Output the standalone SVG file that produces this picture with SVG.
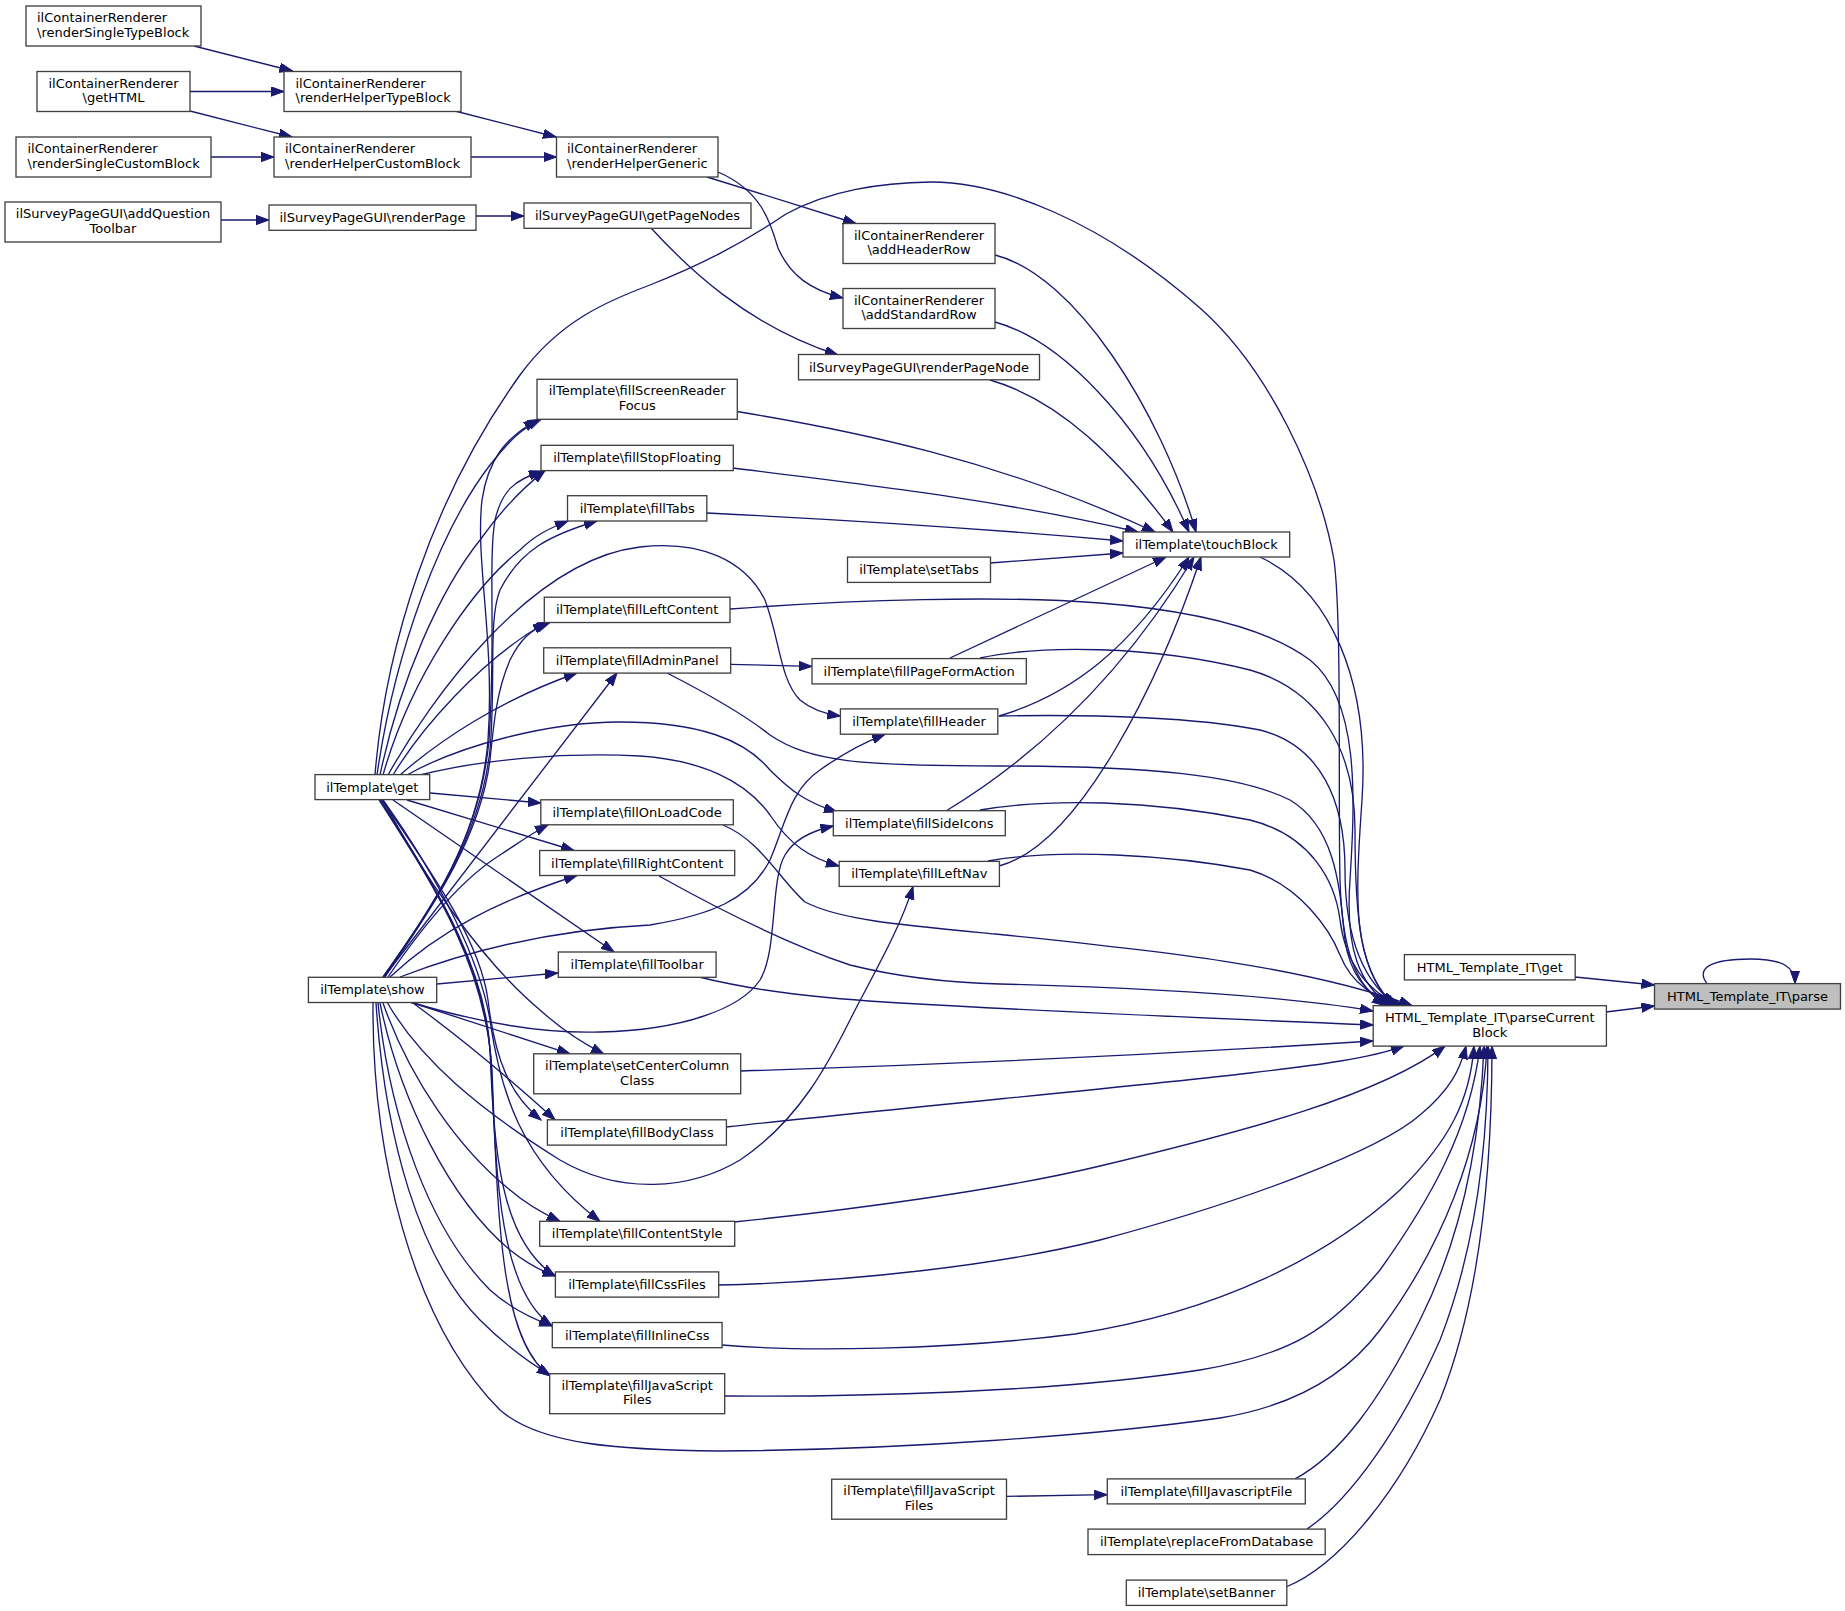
<svg xmlns="http://www.w3.org/2000/svg" width="1845" height="1611" viewBox="0 0 1845 1611">
<style>
.node rect{fill:#ffffff;stroke:#404040;stroke-width:1.33}
.root rect{fill:#bfbfbf}
text{font-family:"DejaVu Sans","Liberation Sans",sans-serif;font-size:13px;fill:#000}
.c{text-anchor:middle}
.e path{fill:none;stroke:#191970;stroke-width:1.33;marker-end:url(#a)}
</style>
<defs>
<marker id="a" markerWidth="14" markerHeight="10" refX="13" refY="4.7" orient="auto" markerUnits="userSpaceOnUse">
<path d="M0,0 L13,4.7 L0,9.4 z" fill="#191970" stroke="#191970" stroke-width="1"/>
</marker>
</defs>
<rect width="1845" height="1611" fill="#ffffff"/>
<g id="edges" class="e">
<path d="M194,46 L292.5,71"/>
<path d="M190,91.5 L284,91.5"/>
<path d="M190,111 L292,137"/>
<path d="M211,157 L274,157"/>
<path d="M455,111 L556,137"/>
<path d="M471,157 L556.5,157"/>
<path d="M221,220 L269,220"/>
<path d="M476,216 L524,216"/>
<path d="M707,177 L856,223.5"/>
<path d="M718,172 C760,190 770,220 778,248 C790,275 810,290 843,298"/>
<path d="M651,228 C685,265 745,325 838,355"/>
<path d="M995,255 C1075,275 1160,410 1196,532"/>
<path d="M995,322 C1060,340 1140,420 1189,532"/>
<path d="M990,380 C1060,400 1120,460 1173,532"/>
<path d="M737,411.5 C850,430 1000,460 1155,532"/>
<path d="M733,468 C870,485 1000,500 1138,532"/>
<path d="M707,513 C850,520 1000,530 1123,541"/>
<path d="M990,563 L1123,553"/>
<path d="M950,658 L1166,557"/>
<path d="M999,716 C1070,695 1130,650 1189,557"/>
<path d="M946,811 C1030,760 1120,680 1194,557"/>
<path d="M999,866 C1080,845 1160,680 1201,557"/>
<path d="M1260,557 C1330,590 1370,680 1362,800 C1355,900 1352,960 1392,1005.6"/>
<path d="M375,775 C385,650 430,500 520,375 C560,320 610,300 650,285 C700,265 740,245 786,214 C830,190 880,183 931,182 C1000,182 1100,220 1200,308 C1270,370 1320,480 1334,560 C1342,620 1338,800 1340,880 C1342,950 1355,985 1385,1005.6"/>
<path d="M730,609 C850,600 1000,595 1100,603 C1200,611 1270,630 1310,660 C1360,700 1355,800 1350,880 C1345,950 1360,985 1390,1005.6"/>
<path d="M980,658 C1040,645 1150,645 1250,670 C1320,690 1355,750 1355,830 C1355,920 1360,975 1395,1005.6"/>
<path d="M999,716 C1100,714 1200,718 1260,730 C1320,745 1345,800 1345,870 C1345,940 1365,985 1398,1005.6"/>
<path d="M667,673 C710,695 745,715 770,735 C810,762 860,766 1000,766 C1150,766 1240,775 1290,800 C1340,830 1340,900 1345,940 C1350,975 1365,990 1388,1005.6"/>
<path d="M980,810 C1050,798 1150,800 1250,820 C1310,835 1335,880 1340,920 C1345,960 1365,990 1400,1005.6"/>
<path d="M988,861 C1060,848 1170,855 1250,870 C1300,885 1330,930 1340,955 C1352,985 1375,998 1403,1005.6"/>
<path d="M723,825 C760,840 780,880 805,902 C840,920 900,925 995,934 C1150,950 1300,965 1412,1005.6"/>
<path d="M659,876 C720,910 790,945 850,965 C910,980 960,983 1000,984 C1150,988 1280,995 1373,1011"/>
<path d="M699,977 C760,992 820,998 900,1003 C1060,1012 1250,1020 1373,1025"/>
<path d="M741,1071 C900,1066 1150,1055 1373,1041"/>
<path d="M726,1127 C900,1108 1150,1085 1250,1073 C1320,1065 1370,1058 1404,1046.1"/>
<path d="M734,1222 C850,1210 1000,1190 1100,1166 C1250,1130 1380,1095 1445,1046.1"/>
<path d="M719,1285 C850,1282 1000,1265 1100,1240 C1250,1200 1380,1150 1420,1115 C1450,1090 1460,1070 1466,1046.1"/>
<path d="M722,1345 C800,1352 950,1350 1075,1334 C1220,1312 1330,1255 1400,1190 C1450,1140 1470,1100 1474,1046.1"/>
<path d="M725,1396 C850,1397 1050,1393 1200,1370 C1290,1355 1330,1330 1380,1270 C1430,1200 1470,1130 1480,1046.1"/>
<path d="M1295,1478.9 C1340,1455 1380,1400 1420,1320 C1460,1240 1480,1150 1484,1046.1"/>
<path d="M1307,1529 C1350,1500 1400,1430 1440,1340 C1475,1250 1488,1150 1488,1046.1"/>
<path d="M1286,1587 C1340,1565 1400,1490 1440,1400 C1480,1300 1492,1170 1492,1046.1"/>
<path d="M373,1003 C372,1150 410,1320 500,1410 C540,1445 620,1450 720,1451 C900,1450 1100,1435 1220,1418 C1300,1405 1350,1370 1380,1330 C1440,1250 1482,1150 1487,1046.1"/>
<path d="M1575,977 L1654.5,985"/>
<path d="M1606,1012 L1654.5,1006"/>
<path d="M1707,983.6 C1695,968 1712,959 1750,959 C1785,959 1795,968 1795,983.6"/>
<path d="M730.5,664.3 L812,666.4"/>
<path d="M1006.5,1496.4 L1107.3,1494.7"/>
<path d="M377,775 C395,650 440,530 490,465 C510,440 522,428 541,419.3"/>
<path d="M380,775 C400,680 440,590 480,540 C500,512 520,490 545,470.6"/>
<path d="M383,775 C410,680 470,590 520,550 C535,535 550,528 568,521"/>
<path d="M388,775 C430,700 530,560 640,547 C700,540 745,560 765,600 C780,640 780,680 800,700 C812,710 825,714 840.4,716"/>
<path d="M393,775 C420,730 480,660 546,622.5"/>
<path d="M400,775 C440,740 500,700 577,673"/>
<path d="M407,775 C460,745 550,722 620,722 C700,722 745,740 770,770 C790,790 805,802 837,812"/>
<path d="M420,775 C480,760 560,752 640,756 C700,760 745,780 770,815 C790,845 810,858 839,866"/>
<path d="M430,793 L541,803"/>
<path d="M407,800 L574,850.5"/>
<path d="M393,800 L614,952"/>
<path d="M383,800 C420,870 480,960 540,1010 C560,1028 580,1042 604,1054"/>
<path d="M382,800 C430,870 480,940 488,1000 C495,1060 510,1095 541,1120"/>
<path d="M383,800 C440,880 480,960 490,1020 C500,1090 520,1160 600,1221.3"/>
<path d="M381,800 C430,880 485,960 490,1050 C494,1150 500,1240 555,1276"/>
<path d="M380,800 C430,880 485,960 491,1060 C496,1180 500,1290 552,1326"/>
<path d="M379,800 C430,880 485,960 492,1070 C498,1220 500,1340 550,1376"/>
<path d="M383,977 C430,910 480,840 488,740 C495,640 475,560 482,500 C488,460 505,438 537,420"/>
<path d="M383,977 C430,910 480,840 489,740 C496,640 488,560 495,520 C502,490 515,480 542,471"/>
<path d="M384,977 C430,910 480,840 490,750 C496,680 488,620 500,590 C520,550 550,535 597,521"/>
<path d="M385,977 C430,910 480,840 490,760 C494,720 497,690 510,660 C520,640 530,630 550,622.5"/>
<path d="M384,977 L617,673"/>
<path d="M388,977 C420,930 460,880 500,855 C520,842 532,833 548,825"/>
<path d="M390,977 C440,930 500,900 577,875.5"/>
<path d="M400,977 C470,950 550,930 650,925 C710,915 750,900 770,860 C785,825 790,790 820,770 C845,752 865,742 885,734.3"/>
<path d="M410,1002 C470,1020 540,1034 600,1032 C680,1030 740,1010 760,980 C778,950 770,880 785,855 C795,838 815,830 833.3,826"/>
<path d="M387,1002 C420,1060 480,1110 560,1160 C620,1195 690,1190 740,1160 C800,1120 830,1060 850,1020 C870,980 900,930 913,886.4"/>
<path d="M437,984 L558,973"/>
<path d="M410,1002 L570,1053.8"/>
<path d="M413,1003 C450,1030 500,1070 555,1119.8"/>
<path d="M383,1003 C410,1080 460,1150 510,1190 C525,1203 540,1212 560,1221.3"/>
<path d="M380,1003 C400,1100 450,1200 510,1250 C525,1262 538,1270 556,1276"/>
<path d="M378,1003 C390,1120 430,1230 490,1290 C510,1308 530,1318 552.3,1326"/>
<path d="M376,1003 C385,1140 420,1260 480,1320 C505,1345 525,1360 550,1375"/>
</g>
<g id="n1" class="node"><rect x="26" y="6" width="175" height="40"/><text x="37" y="22">ilContainerRenderer</text><text x="37" y="36.7">\renderSingleTypeBlock</text></g>
<g id="n2" class="node"><rect x="37" y="71.5" width="153" height="40"/><text class="c" x="113.5" y="87.5">ilContainerRenderer</text><text class="c" x="113.5" y="102.2">\getHTML</text></g>
<g id="n3" class="node"><rect x="284" y="71.5" width="177" height="40"/><text x="295.5" y="87.5">ilContainerRenderer</text><text x="295.5" y="102.2">\renderHelperTypeBlock</text></g>
<g id="n4" class="node"><rect x="16" y="137" width="195" height="40"/><text x="27.5" y="153">ilContainerRenderer</text><text x="27.5" y="167.7">\renderSingleCustomBlock</text></g>
<g id="n5" class="node"><rect x="274" y="137" width="197" height="40"/><text x="285" y="153">ilContainerRenderer</text><text x="285" y="167.7">\renderHelperCustomBlock</text></g>
<g id="n6" class="node"><rect x="556.5" y="137" width="161.5" height="40"/><text x="567" y="153">ilContainerRenderer</text><text x="567" y="167.7">\renderHelperGeneric</text></g>
<g id="n7" class="node"><rect x="5" y="202" width="216" height="40"/><text class="c" x="113" y="218">ilSurveyPageGUI\addQuestion</text><text class="c" x="113" y="232.7">Toolbar</text></g>
<g id="n8" class="node"><rect x="269" y="205" width="207" height="25.3"/><text class="c" x="372.5" y="222">ilSurveyPageGUI\renderPage</text></g>
<g id="n9" class="node"><rect x="524" y="203" width="227" height="25.3"/><text class="c" x="637.5" y="220">ilSurveyPageGUI\getPageNodes</text></g>
<g id="n10" class="node"><rect x="843" y="223.5" width="152" height="40"/><text class="c" x="919" y="239.5">ilContainerRenderer</text><text class="c" x="919" y="254.2">\addHeaderRow</text></g>
<g id="n11" class="node"><rect x="843" y="288.5" width="152" height="40"/><text class="c" x="919" y="304.5">ilContainerRenderer</text><text class="c" x="919" y="319.2">\addStandardRow</text></g>
<g id="n12" class="node"><rect x="798.5" y="354.5" width="241" height="25.3"/><text class="c" x="919" y="371.5">ilSurveyPageGUI\renderPageNode</text></g>
<g id="n13" class="node"><rect x="537" y="379.3" width="200.3" height="40"/><text class="c" x="637.2" y="395.3">ilTemplate\fillScreenReader</text><text class="c" x="637.2" y="410">Focus</text></g>
<g id="n14" class="node"><rect x="541" y="445.3" width="192.3" height="25.3"/><text class="c" x="637.2" y="462.3">ilTemplate\fillStopFloating</text></g>
<g id="n15" class="node"><rect x="567.5" y="495.7" width="139.3" height="25.3"/><text class="c" x="637.2" y="512.7">ilTemplate\fillTabs</text></g>
<g id="n16" class="node"><rect x="1123" y="532" width="166.7" height="25"/><text class="c" x="1206.3" y="549">ilTemplate\touchBlock</text></g>
<g id="n17" class="node"><rect x="847.5" y="557.1" width="143" height="25.3"/><text class="c" x="919" y="574.1">ilTemplate\setTabs</text></g>
<g id="n18" class="node"><rect x="544.3" y="597.2" width="185.7" height="25.3"/><text class="c" x="637.2" y="614.2">ilTemplate\fillLeftContent</text></g>
<g id="n19" class="node"><rect x="543.7" y="647.8" width="187" height="25.3"/><text class="c" x="637.2" y="664.8">ilTemplate\fillAdminPanel</text></g>
<g id="n20" class="node"><rect x="812" y="658.6" width="214.3" height="25.3"/><text class="c" x="919.2" y="675.6">ilTemplate\fillPageFormAction</text></g>
<g id="n21" class="node"><rect x="840.4" y="708.9" width="157.4" height="25.3"/><text class="c" x="919.1" y="725.9">ilTemplate\fillHeader</text></g>
<g id="n22" class="node"><rect x="315" y="774.6" width="114.7" height="25"/><text class="c" x="372.3" y="791.6">ilTemplate\get</text></g>
<g id="n23" class="node"><rect x="540.8" y="799.8" width="192.5" height="25"/><text class="c" x="637.1" y="816.8">ilTemplate\fillOnLoadCode</text></g>
<g id="n24" class="node"><rect x="833.3" y="810.7" width="172" height="25"/><text class="c" x="919.3" y="827.7">ilTemplate\fillSideIcons</text></g>
<g id="n25" class="node"><rect x="539.7" y="850.5" width="195" height="25"/><text class="c" x="637.2" y="867.5">ilTemplate\fillRightContent</text></g>
<g id="n26" class="node"><rect x="839.2" y="861.4" width="160.2" height="25"/><text class="c" x="919.3" y="878.4">ilTemplate\fillLeftNav</text></g>
<g id="n27" class="node"><rect x="1404.4" y="954.6" width="170.8" height="25.3"/><text class="c" x="1489.8" y="971.6">HTML_Template_IT\get</text></g>
<g id="n28" class="node"><rect x="558.3" y="952" width="157.8" height="25.3"/><text class="c" x="637.2" y="969">ilTemplate\fillToolbar</text></g>
<g id="n29" class="node"><rect x="308.4" y="977.3" width="128.3" height="25.2"/><text class="c" x="372.5" y="994.3">ilTemplate\show</text></g>
<g id="n30" class="node root"><rect x="1654.5" y="983.6" width="186" height="25.5"/><text class="c" x="1747.5" y="1000.6">HTML_Template_IT\parse</text></g>
<g id="n31" class="node"><rect x="1373.2" y="1005.7" width="233.2" height="40.4"/><text class="c" x="1489.8" y="1021.7">HTML_Template_IT\parseCurrent</text><text class="c" x="1489.8" y="1036.6">Block</text></g>
<g id="n32" class="node"><rect x="533.7" y="1053.8" width="207" height="40"/><text class="c" x="637.2" y="1069.8">ilTemplate\setCenterColumn</text><text class="c" x="637.2" y="1084.5">Class</text></g>
<g id="n33" class="node"><rect x="547.4" y="1119.8" width="179" height="25.3"/><text class="c" x="637" y="1136.8">ilTemplate\fillBodyClass</text></g>
<g id="n34" class="node"><rect x="539.7" y="1221.3" width="195" height="25"/><text class="c" x="637.2" y="1238.3">ilTemplate\fillContentStyle</text></g>
<g id="n35" class="node"><rect x="555.4" y="1271.9" width="163.3" height="25.2"/><text class="c" x="637" y="1288.9">ilTemplate\fillCssFiles</text></g>
<g id="n36" class="node"><rect x="552.3" y="1322.5" width="169.8" height="25.2"/><text class="c" x="637.2" y="1339.5">ilTemplate\fillInlineCss</text></g>
<g id="n37" class="node"><rect x="549.7" y="1373.7" width="175" height="40"/><text class="c" x="637.2" y="1389.7">ilTemplate\fillJavaScript</text><text class="c" x="637.2" y="1404.4">Files</text></g>
<g id="n38" class="node"><rect x="831.7" y="1479.2" width="174.8" height="40"/><text class="c" x="919.1" y="1495.2">ilTemplate\fillJavaScript</text><text class="c" x="919.1" y="1509.9">Files</text></g>
<g id="n39" class="node"><rect x="1107.3" y="1478.9" width="198" height="25"/><text class="c" x="1206.3" y="1495.9">ilTemplate\fillJavascriptFile</text></g>
<g id="n40" class="node"><rect x="1088" y="1529.1" width="237.2" height="25.5"/><text class="c" x="1206.6" y="1546.1">ilTemplate\replaceFromDatabase</text></g>
<g id="n41" class="node"><rect x="1126.3" y="1580.1" width="160.5" height="25.3"/><text class="c" x="1206.5" y="1597.1">ilTemplate\setBanner</text></g>
</svg>
